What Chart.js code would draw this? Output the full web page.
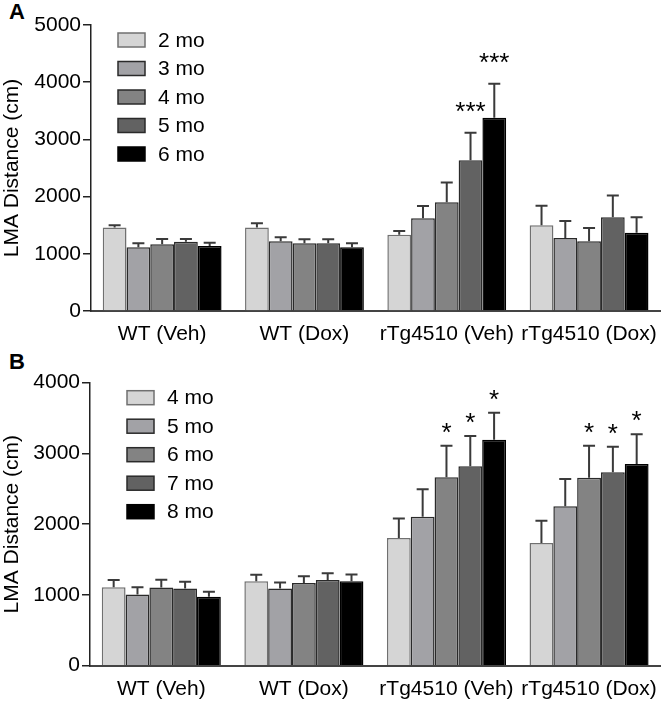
<!DOCTYPE html>
<html>
<head>
<meta charset="utf-8">
<script src="https://cdn.jsdelivr.net/npm/chart.js@4.4.1/dist/chart.umd.min.js"></script>
<style>
body{margin:0;background:#fff;width:668px;height:702px;overflow:hidden;position:relative;font-family:"Liberation Sans",Arial,sans-serif;}
.panel{position:absolute;left:0;width:668px;}
.lbl{position:absolute;left:9px;font-weight:bold;font-size:22px;line-height:22px;color:#000;}
</style>
</head>
<body>
<div class="lbl" style="top:1px">A</div>
<div class="lbl" style="top:351px">B</div>
<div class="panel" style="top:0;height:345px"><canvas id="chartA" width="668" height="345"></canvas></div>
<div class="panel" style="top:345px;height:357px"><canvas id="chartB" width="668" height="357"></canvas></div>
<script>
// groups on the x axis
const groups=['WT (Veh)','WT (Dox)','rTg4510 (Veh)','rTg4510 (Dox)'];

// panel A: ages 2-6 months
const agesA=['2 mo','3 mo','4 mo','5 mo','6 mo'];
const meanA=[
  [1460,1460,1335,1500],
  [1115,1220,1620,1275],
  [1165,1185,1900,1220],
  [1210,1185,2635,1640],
  [1135,1115,3380,1370]
];
const semA=[
  [40,75,65,340],
  [70,70,215,300],
  [95,70,345,230],
  [50,70,480,380],
  [60,70,595,270]
];
const starsA=[
  ['','','',''],
  ['','','',''],
  ['','','',''],
  ['','','***',''],
  ['','','***','']
];
const ticksA=[0,1000,2000,3000,4000,5000];

// panel B: ages 4-8 months
const agesB=['4 mo','5 mo','6 mo','7 mo','8 mo'];
const meanB=[
  [1110,1195,1805,1735],
  [1005,1090,2105,2255],
  [1105,1170,2665,2655],
  [1090,1210,2820,2735],
  [975,1195,3195,2850]
];
const semB=[
  [100,90,275,315],
  [105,85,390,385],
  [110,95,445,455],
  [95,95,425,360],
  [70,95,380,420]
];
const starsB=[
  ['','','',''],
  ['','','',''],
  ['','','*','*'],
  ['','','*','*'],
  ['','','*','*']
];
const ticksB=[0,1000,2000,3000,4000];

const fills=['#d5d5d5','#a2a2a6','#838383','#626262','#000000'];
const edges=['#707070','#2a2a2a','#2a2a2a','#2a2a2a','#000000'];
const FONT='"Liberation Sans", Arial, sans-serif';

// error bars (upper half only) and significance stars
const errPlugin={
  id:'errBars',
  afterDatasetsDraw(chart,args,opts){
    const ctx=chart.ctx,y=chart.scales.y;
    ctx.save();
    chart.data.datasets.forEach((ds,i)=>{
      const meta=chart.getDatasetMeta(i);
      meta.data.forEach((bar,j)=>{
        const top=y.getPixelForValue(ds.data[j]+opts.sem[i][j]);
        ctx.strokeStyle='#3a3a3a';ctx.lineWidth=2;
        ctx.beginPath();
        ctx.moveTo(bar.x,bar.y);ctx.lineTo(bar.x,top);
        ctx.moveTo(bar.x-6,top);ctx.lineTo(bar.x+6,top);
        ctx.stroke();
        const s=opts.stars[i][j];
        if(s){
          ctx.fillStyle='#000';ctx.font='26px '+FONT;
          ctx.textAlign='center';ctx.textBaseline='alphabetic';
          ctx.fillText(s,bar.x,top-opts.starGap);
        }
      });
    });
    ctx.restore();
  }
};

// legend boxes inside the plot area
const legendPlugin={
  id:'boxLegend',
  afterDraw(chart,args,opts){
    const ctx=chart.ctx,a=chart.chartArea;
    ctx.save();
    chart.data.datasets.forEach((ds,i)=>{
      const cy=a.top+opts.dy+i*28.5;
      const x=a.left+opts.dx;
      ctx.fillStyle=ds.backgroundColor;
      ctx.fillRect(x,cy-7,27,14);
      ctx.strokeStyle=ds.borderColor;ctx.lineWidth=1.5;
      ctx.strokeRect(x,cy-7,27,14);
      ctx.fillStyle='#000';ctx.font='21px '+FONT;
      ctx.textAlign='left';ctx.textBaseline='middle';
      ctx.fillText(ds.label,x+40,cy+1);
    });
    ctx.restore();
  }
};

function makeChart(id,ages,means,sem,stars,ticks,o){
  return new Chart(document.getElementById(id),{
    type:'bar',
    data:{
      labels:groups,
      datasets:ages.map((a,i)=>({
        label:a,data:means[i],
        backgroundColor:fills[i],borderColor:edges[i],borderWidth:1.5,
        categoryPercentage:0.835,barPercentage:1
      }))
    },
    options:{
      responsive:false,animation:false,
      layout:{padding:{top:o.top,right:2,left:0,bottom:0}},
      plugins:{
        legend:{display:false},tooltip:{enabled:false},
        errBars:{sem:sem,stars:stars,starGap:o.starGap},
        boxLegend:{dx:o.legX,dy:15}
      },
      scales:{
        x:{
          grid:{drawOnChartArea:false,drawTicks:false},
          border:{color:'#444',width:2},
          ticks:{color:'#000',font:{family:FONT,size:21},padding:11},
          afterFit(s){s.height=o.xh;}
        },
        y:{
          min:0,max:ticks[ticks.length-1],
          afterBuildTicks(s){s.ticks=ticks.map(v=>({value:v}));},
          grid:{drawOnChartArea:false,tickLength:8,color:'#222',lineWidth:1.5},
          border:{color:'#222',width:1.5},
          ticks:{color:'#000',font:{family:FONT,size:21},padding:2,callback:v=>String(v)},
          title:{display:true,text:'LMA Distance (cm)',color:'#000',font:{family:FONT,size:21},padding:0},
          afterFit(s){s.width=o.yw;}
        }
      }
    },
    plugins:[errPlugin,legendPlugin]
  });
}

makeChart('chartA',agesA,meanA,semA,starsA,ticksA,{top:25,xh:34,yw:91,starGap:13,legX:27});
makeChart('chartB',agesB,meanB,semB,starsB,ticksB,{top:37.7,xh:36.3,yw:90,starGap:5,legX:37});
</script>
</body>
</html>
